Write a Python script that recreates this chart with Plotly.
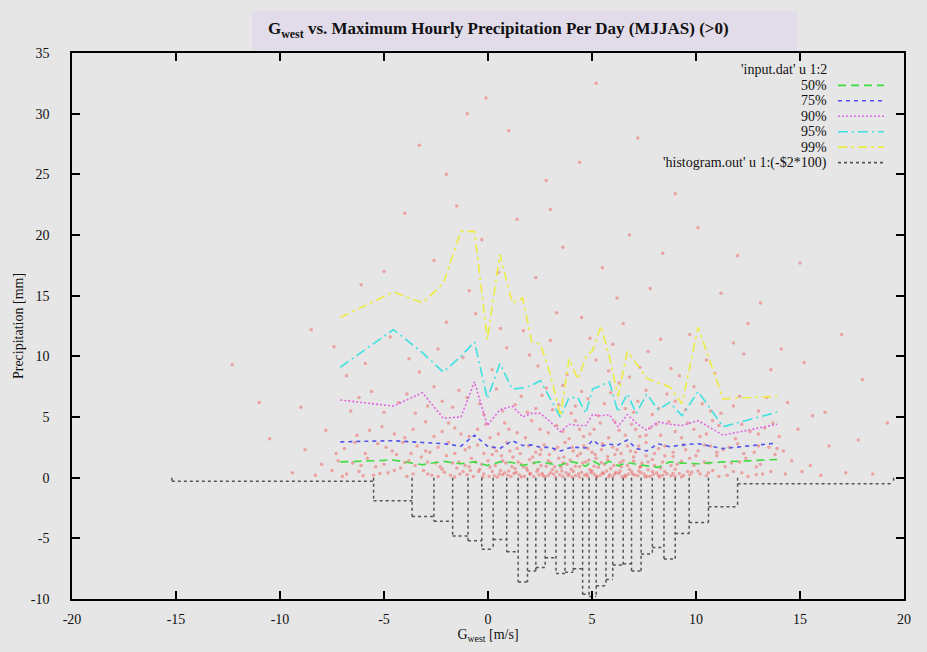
import plotly.graph_objects as go

# ---------------- data ----------------
x_ticks = [-20, -15, -10, -5, 0, 5, 10, 15, 20]
x_tick_labels = ["-20", "-15", "-10", "-5", "0", "5", "10", "15", "20"]
y_ticks = [-10, -5, 0, 5, 10, 15, 20, 25, 30, 35]
y_tick_labels = ["-10", "-5", "0", "5", "10", "15", "20", "25", "30", "35"]

# quantile curves (bin centres)
x_line = [-7.1, -4.55, -3.15, -2.15, -1.3, -0.65, -0.03, 0.57, 1.17, 1.67, 2.1, 2.52, 3.0, 3.48, 3.9,
          4.32, 4.7, 5.03, 5.43, 5.83, 6.25, 6.7, 7.13, 7.63, 8.18, 8.73, 9.33, 10.1, 11.3, 13.9]
p50 = [1.3, 1.45, 1.07, 1.35, 1.15, 1.3, 1.0, 1.3, 1.25, 1.0, 1.2, 1.3, 1.15, 1.0, 1.35,
       1.2, 0.93, 1.4, 1.0, 1.35, 0.98, 1.25, 1.1, 1.0, 0.85, 1.3, 1.2, 1.15, 1.3, 1.5]
p75 = [2.95, 3.05, 2.9, 2.8, 2.6, 3.5, 2.6, 2.4, 3.05, 2.65, 2.7, 2.5, 2.5, 2.2, 2.45,
       2.5, 2.45, 3.1, 2.6, 2.75, 2.7, 3.1, 2.4, 2.2, 2.8, 2.55, 2.7, 2.8, 2.4, 2.85]
p90 = [6.4, 5.9, 7.0, 4.9, 5.0, 7.9, 4.3, 5.6, 5.9, 5.0, 5.3, 5.3, 4.6, 3.8, 4.4,
       4.3, 4.3, 5.2, 5.1, 5.2, 4.2, 5.2, 4.5, 3.9, 4.6, 4.4, 4.3, 4.7, 3.5, 4.4]
p95 = [9.1, 12.2, 10.3, 8.7, 10.0, 11.2, 6.5, 9.4, 7.3, 7.4, 7.6, 8.0, 6.5, 5.0, 6.6,
       6.6, 5.3, 7.3, 7.6, 7.9, 5.4, 6.9, 5.3, 6.9, 5.6, 6.2, 5.1, 7.1, 4.2, 5.4]
p99 = [13.2, 15.3, 14.4, 16.0, 20.3, 20.3, 11.4, 18.4, 14.4, 14.8, 11.2, 11.0, 8.5, 5.1, 9.8,
       8.1, 9.9, 10.5, 12.5, 10.0, 6.7, 10.4, 9.4, 8.2, 7.8, 7.5, 6.1, 12.4, 6.5, 6.7]

# histogram (bin edges and -count*100 values)
hist_edges = [-15.2, -5.5, -3.65, -2.6, -1.7, -0.96, -0.3, 0.25, 0.9, 1.45, 1.9, 2.3, 2.75, 3.27, 3.7,
              4.1, 4.55, 4.86, 5.2, 5.67, 6.0, 6.5, 6.9, 7.36, 7.9, 8.46, 9.0, 9.67, 10.6, 12.0, 19.5]
hist_vals = [-0.3, -1.9, -3.2, -3.6, -4.8, -5.2, -5.9, -5.1, -6.1, -8.6, -7.7, -7.4, -6.6, -7.9,
             -7.8, -7.5, -9.6, -9.8, -8.9, -8.4, -7.2, -7.1, -7.7, -6.3, -5.75, -6.7, -4.6, -3.7, -2.4, -0.5]

# raw points (input.dat u 1:2)
scatter_pts = [
    (-1.8, 0.2), (-1.2, 0.5), (-0.7, 0.1), (-0.2, 0.3), (0.3, 0.15), (0.8, 0.4), (1.1, 0.1), (1.5, 0.25),
    (1.9, 0.6), (2.2, 0.1), (2.6, 0.35), (2.9, 0.2), (3.3, 0.5), (3.6, 0.1), (3.9, 0.3), (4.2, 0.15),
    (4.5, 0.45), (4.8, 0.1), (5.1, 0.3), (5.4, 0.2), (5.7, 0.55), (6.0, 0.1), (6.3, 0.35), (6.6, 0.2),
    (6.9, 0.5), (7.2, 0.15), (7.5, 0.3), (7.8, 0.1), (8.1, 0.4), (8.4, 0.2), (8.8, 0.15), (9.2, 0.35),
    (-1.6, 0.05), (-1.0, 0.25), (-0.45, 0.5), (0.05, 0.1), (0.55, 0.3), (0.95, 0.2), (1.35, 0.45),
    (1.75, 0.12), (2.05, 0.35), (2.45, 0.22), (2.75, 0.08), (3.15, 0.3), (3.45, 0.25), (3.75, 0.4),
    (4.05, 0.05), (4.35, 0.3), (4.65, 0.2), (4.95, 0.4), (5.25, 0.08), (5.55, 0.35), (5.85, 0.25),
    (6.15, 0.45), (6.45, 0.08), (6.75, 0.3), (7.05, 0.22), (7.35, 0.4), (7.65, 0.12), (7.95, 0.28),
    (8.25, 0.06), (8.6, 0.33), (9.0, 0.1), (9.4, 0.2), (9.8, 0.45), (10.5, 0.15),
    (-2.9, 0.3), (-2.4, 0.1), (-2.1, 0.45), (-1.35, 0.3), (-0.85, 0.6), (-0.25, 0.05), (0.2, 0.5),
    (0.45, 0.05), (0.7, 0.25), (1.0, 0.55), (1.25, 0.35), (1.6, 0.05), (2.0, 0.3), (2.35, 0.5),
    (2.65, 0.15), (3.0, 0.4), (3.25, 0.05), (3.55, 0.55), (3.85, 0.15), (4.1, 0.5), (4.4, 0.05),
    (4.75, 0.3), (5.0, 0.55), (5.2, 0.12), (5.5, 0.4), (5.8, 0.05), (6.1, 0.3), (6.35, 0.55),
    (6.6, 0.05), (6.95, 0.3), (7.25, 0.55), (7.55, 0.05), (7.9, 0.5), (8.2, 0.2), (8.5, 0.5),
    (8.9, 0.35), (9.3, 0.05), (9.7, 0.25), (10.1, 0.55), (10.6, 0.4), (11.1, 0.1), (11.8, 0.5),
    (12.5, 0.1), (13.2, 0.3), (-3.9, 0.1), (-4.5, 0.6), (-5.2, 0.35), (-6.0, 0.15), (-7.0, 0.1),
    (-1.5, 0.8), (-0.9, 0.9), (-0.4, 0.7), (0.1, 0.85), (0.6, 0.6), (1.3, 0.75), (1.7, 0.9), (2.4, 0.7),
    (2.8, 0.95), (3.1, 0.65), (3.5, 0.85), (4.0, 0.7), (4.4, 0.9), (4.9, 0.65), (5.3, 0.85), (5.9, 0.75),
    (6.4, 0.9), (6.8, 0.7), (7.3, 0.85), (7.7, 0.65), (8.3, 0.8), (9.0, 0.7), (9.6, 0.5), (10.2, 0.3),
    (10.8, 0.6), (11.5, 0.2), (12.2, 0.4), (12.9, 0.25), (13.6, 0.5),
    (-4.8, 0.4), (-4.2, 0.8), (-3.6, 0.3), (-3.1, 0.6), (-2.7, 0.2), (-2.3, 0.9), (-5.5, 0.2),
    (-6.2, 0.5), (-6.8, 0.3), (-7.5, 0.6), (-8.3, 0.2), (-9.4, 0.4), (14.3, 0.3), (15.1, 0.5),
    (16.0, 0.2), (17.2, 0.4), (18.5, 0.3),
    (-3.5, 1.0), (-2.9, 1.3), (-2.2, 0.7), (-1.7, 1.2), (-1.1, 1.0), (-0.6, 1.3), (0.0, 1.4), (0.35, 1.0),
    (0.85, 1.2), (1.15, 0.9), (1.45, 1.3), (1.85, 0.8), (2.2, 1.2), (2.55, 1.0), (2.9, 1.4), (3.2, 0.9),
    (3.6, 1.2), (3.95, 1.45), (4.2, 0.95), (4.55, 1.2), (4.85, 1.45), (5.1, 0.95), (5.45, 1.25),
    (5.75, 1.45), (6.05, 1.0), (6.35, 1.25), (6.7, 1.0), (7.0, 1.35), (7.35, 0.95), (7.7, 1.3),
    (8.0, 1.0), (8.4, 1.3), (8.8, 1.0), (9.3, 1.35), (9.9, 1.0), (10.6, 1.2), (11.4, 0.9), (12.1, 1.3),
    (12.9, 0.9), (-4.0, 1.25), (-5.4, 0.9), (-6.1, 1.0), (-7.2, 1.4), (-8.0, 1.1),
    (-6.5, 1.2), (-5.8, 1.6), (-5.0, 1.1), (-4.4, 1.9), (-3.8, 1.4), (-3.2, 1.7), (-2.5, 1.2),
    (-2.0, 1.8), (-1.4, 1.3), (-0.8, 1.6), (-0.3, 1.1), (0.2, 1.9), (0.7, 1.4), (1.2, 1.7), (1.6, 1.1),
    (2.0, 1.5), (2.5, 1.9), (3.0, 1.2), (3.4, 1.6), (3.8, 1.1), (4.3, 1.8), (4.7, 1.3), (5.2, 1.6),
    (5.6, 1.1), (6.1, 1.9), (6.5, 1.4), (7.0, 1.7), (7.4, 1.2), (7.9, 1.5), (8.5, 1.8), (9.1, 1.1),
    (9.7, 1.6), (10.4, 1.3), (11.0, 1.8), (11.7, 1.2), (12.4, 1.6), (13.1, 1.1), (13.8, 1.9),
    (14.6, 1.4), (15.5, 1.0),
    (-6.9, 2.4), (-5.3, 2.8), (-4.6, 2.2), (-3.4, 2.6), (-2.8, 2.1), (-1.9, 2.9), (-1.1, 2.3),
    (-0.5, 2.7), (0.4, 2.2), (0.9, 2.9), (1.4, 2.4), (2.3, 2.1), (2.7, 2.7), (3.2, 2.3), (3.7, 2.9),
    (4.1, 2.2), (4.6, 2.6), (5.0, 2.1), (5.5, 2.8), (6.2, 2.3), (6.7, 2.6), (7.1, 2.1), (7.6, 2.9),
    (8.2, 2.4), (8.9, 2.1), (9.4, 2.7), (10.1, 2.2), (10.7, 2.6), (11.3, 2.3), (12.0, 2.8),
    (12.8, 2.1), (13.5, 2.5), (14.2, 2.2), (16.4, 2.6), (-8.8, 2.3),
    (-4.9, 2.5), (-4.1, 2.9), (-3.7, 2.0), (-3.0, 2.2), (-2.4, 2.5), (-1.6, 2.0), (-0.9, 2.5),
    (-0.2, 2.0), (0.25, 2.5), (0.65, 1.8), (1.05, 2.2), (1.55, 2.0), (1.95, 2.6), (2.15, 1.7),
    (2.55, 2.3), (2.95, 1.9), (3.35, 2.5), (3.65, 1.7), (4.05, 2.5), (4.45, 2.0), (4.8, 2.4),
    (5.15, 1.9), (5.45, 2.3), (5.75, 1.75), (6.0, 2.5), (6.4, 2.0), (6.85, 2.2), (7.25, 2.6),
    (7.6, 1.8), (8.0, 2.0), (8.5, 2.6), (8.9, 1.75), (9.5, 2.3), (10.0, 1.8), (10.4, 2.7), (11.0, 2.1),
    (11.6, 2.5), (12.3, 2.0), (13.0, 2.6), (13.9, 2.4), (-5.9, 2.0), (-6.4, 2.9), (-7.3, 2.0),
    (-6.3, 3.5), (-5.1, 4.2), (-4.0, 3.3), (-3.0, 4.6), (-2.2, 3.8), (-1.6, 4.1), (-0.9, 3.4),
    (-0.1, 4.4), (0.5, 3.6), (1.0, 4.0), (1.8, 3.3), (2.1, 4.7), (2.9, 3.7), (3.3, 4.3), (3.9, 3.2),
    (4.4, 4.0), (4.9, 3.6), (5.4, 4.5), (5.8, 3.3), (6.3, 3.9), (6.9, 4.4), (7.3, 3.4), (7.8, 4.1),
    (8.3, 3.5), (8.7, 4.6), (9.3, 3.3), (9.9, 4.0), (10.5, 3.6), (11.1, 4.3), (11.9, 3.2),
    (12.6, 3.8), (13.3, 4.1), (14.0, 3.4), (14.9, 4.0), (17.8, 3.1), (-7.8, 3.9), (-10.5, 3.2),
    (-5.7, 3.9), (-4.5, 3.6), (-3.6, 4.0), (-2.6, 3.4), (-1.9, 4.5), (-1.3, 3.6), (-0.5, 4.0),
    (0.1, 3.3), (0.8, 4.5), (1.4, 3.7), (2.5, 4.0), (3.6, 3.8), (4.2, 4.7), (4.6, 3.4), (5.1, 4.0),
    (6.1, 4.6), (6.6, 3.5), (7.1, 4.0), (7.6, 3.5), (8.1, 4.4), (9.0, 3.8), (9.6, 4.5), (10.2, 3.4),
    (10.8, 4.7), (12.2, 4.4), (13.0, 3.6), (13.7, 4.5),
    (-6.6, 5.5), (-5.6, 7.1), (-4.3, 6.2), (-3.5, 5.3), (-2.6, 7.5), (-1.7, 5.8), (-1.0, 6.6),
    (-0.2, 5.2), (0.4, 7.3), (1.3, 6.0), (1.9, 5.4), (2.6, 6.8), (3.1, 5.6), (3.6, 7.6), (4.2, 5.9),
    (4.8, 6.5), (5.3, 5.1), (5.9, 7.0), (6.6, 5.7), (7.2, 6.3), (7.9, 5.2), (8.6, 6.9), (9.5, 5.6),
    (10.3, 6.1), (11.2, 5.3), (12.1, 6.7), (13.0, 5.5), (14.4, 6.2), (15.6, 5.1), (-9.0, 5.8),
    (-6.2, 6.6), (-5.0, 5.4), (-3.9, 6.9), (-2.9, 5.9), (-2.2, 6.3), (-1.4, 7.2), (-0.4, 6.1),
    (0.7, 5.5), (1.6, 6.7), (2.3, 5.7), (2.8, 7.4), (3.4, 6.0), (4.0, 5.3), (4.5, 7.1), (5.6, 6.1),
    (6.3, 7.8), (7.0, 5.4), (7.6, 7.2), (8.2, 5.7), (9.0, 6.3), (9.9, 7.5), (10.7, 5.5), (11.8, 5.9),
    (13.4, 6.6), (16.2, 5.4),
    (-5.9, 9.4), (-4.7, 11.6), (-3.3, 8.7), (-2.0, 12.8), (-1.2, 9.9), (-0.6, 13.5), (0.2, 8.9),
    (0.9, 10.7), (1.7, 12.1), (2.4, 9.2), (3.0, 11.3), (3.8, 8.5), (4.5, 13.2), (5.2, 9.7),
    (6.0, 11.0), (6.8, 8.3), (7.7, 10.4), (8.8, 9.0), (9.7, 11.8), (10.9, 8.6), (12.3, 10.2),
    (13.6, 8.9), (15.2, 9.5), (-7.4, 10.8), (-12.3, 9.3),
    (-3.8, 9.8), (-2.4, 10.6), (0.6, 12.3), (2.0, 10.1), (3.3, 13.6), (4.9, 11.5), (5.8, 8.8),
    (6.5, 12.7), (7.3, 9.1), (8.3, 11.4), (9.2, 8.4), (10.5, 9.7), (11.8, 11.1), (14.1, 10.6),
    (-6.8, 8.4), (-8.5, 12.2),
    (-4.0, 21.8), (-2.6, 17.9), (-1.5, 22.4), (-0.3, 19.6), (-0.9, 15.4), (0.5, 16.9), (1.4, 21.3),
    (2.3, 16.5), (3.6, 19.0), (4.4, 26.0), (5.5, 17.3), (6.2, 14.8), (7.8, 15.6), (8.4, 18.5),
    (10.1, 20.6), (11.2, 15.2), (13.1, 14.4), (15.0, 17.7), (-0.1, 31.3), (5.2, 32.5), (-3.3, 27.4),
    (2.8, 24.5), (12.5, 12.7), (-6.1, 15.9), (17.0, 11.8),
    (-5.0, 17.0), (-2.0, 25.0), (1.0, 28.6), (3.0, 22.1), (6.8, 20.0), (9.0, 23.4), (12.0, 18.3),
    (7.2, 28.0), (-1.0, 30.0), (18.0, 8.1), (-11.0, 6.2), (19.2, 4.5),
]
scatter_x = [p[0] for p in scatter_pts]
scatter_y = [p[1] for p in scatter_pts]

# ---------------- figure ----------------
FONT = "Liberation Serif, Times New Roman, serif"
BG = "#e6e6e6"

fig = go.Figure()

fig.add_trace(go.Scatter(x=scatter_x, y=scatter_y, mode="markers", name="'input.dat' u 1:2",
                         marker=dict(size=3.5, color="rgba(240,60,60,0.4)", line=dict(width=0))))

# histogram outline: open boxes hanging from zero, each vertical drawn once
hx, hy = [], []
n = len(hist_vals)
for i in range(n + 1):
    left = hist_vals[i - 1] if i > 0 else 0
    right = hist_vals[i] if i < n else 0
    hx += [hist_edges[i], hist_edges[i], None]
    hy += [0, min(left, right), None]
for i, v in enumerate(hist_vals):
    hx += [hist_edges[i], hist_edges[i + 1], None]
    hy += [v, v, None]
fig.add_trace(go.Scatter(x=hx, y=hy, mode="lines", name="'histogram.out' u 1:(-$2*100)",
                         connectgaps=False,
                         line=dict(color="#555555", width=1.5, dash="3px,3px")))

line_specs = [
    ("50%", p50, "#3edc3e", "8px,5px"),
    ("75%", p75, "#5252ee", "4px,4px"),
    ("90%", p90, "#e068e0", "2px,2px"),
    ("95%", p95, "#3ee0e0", "10px,4px,2px,4px"),
    ("99%", p99, "#ecec44", "9px,4px,3px,4px"),
]
for name, vals, col, dash in line_specs:
    fig.add_trace(go.Scatter(x=x_line, y=vals, mode="lines", name=name,
                             line=dict(color=col, width=1.6, dash=dash)))

# ---- pixel helpers for paper coordinates (plot area 72..904 x 53..601) ----
def px_x(p):
    return (p - 72) / 832.0

def px_y(p):
    return (601 - p) / 548.0

shapes = []
annotations = []

# title box
shapes.append(dict(type="rect", xref="paper", yref="paper", x0=px_x(252), x1=px_x(797),
                   y0=px_y(50), y1=px_y(11), fillcolor="#e2dcea", line=dict(width=0), layer="below"))
annotations.append(dict(xref="paper", yref="paper", x=px_x(266), y=px_y(30), xanchor="left",
                        yanchor="middle", showarrow=False,
                        text="<b>G<sub>west</sub> vs. Maximum Hourly Precipitation Per Day (MJJAS) (&gt;0)</b>",
                        font=dict(family=FONT, size=17, color="#111111")))

# gnuplot-style key (text right-aligned, sample on the right)
key_rows = [
    ("'input.dat' u 1:2", None, None),
    ("50%", "#3edc3e", "8px,5px"),
    ("75%", "#5252ee", "4px,4px"),
    ("90%", "#e068e0", "2px,2px"),
    ("95%", "#3ee0e0", "10px,4px,2px,4px"),
    ("99%", "#ecec44", "9px,4px,3px,4px"),
    ("'histogram.out' u 1:(-$2*100)", "#555555", "3px,3px"),
]
for k, (txt, col, dash) in enumerate(key_rows):
    yy = 70 + k * 15.5
    annotations.append(dict(xref="paper", yref="paper", x=px_x(829), y=px_y(yy), xanchor="right",
                            yanchor="middle", showarrow=False, text=txt,
                            font=dict(family=FONT, size=14, color="#111111")))
    if col:
        shapes.append(dict(type="line", xref="paper", yref="paper", x0=px_x(838), x1=px_x(884),
                           y0=px_y(yy), y1=px_y(yy), line=dict(color=col, width=1.6, dash=dash)))

axis_common = dict(showgrid=False, zeroline=False, showline=True, linecolor="black", linewidth=1.5,
                   mirror="ticks", ticks="inside", ticklen=8, tickwidth=1.5, tickcolor="black",
                   tickfont=dict(family=FONT, size=14, color="#111111"))

fig.update_layout(
    width=927, height=652,
    margin=dict(l=72, r=23, t=53, b=51),
    paper_bgcolor=BG, plot_bgcolor=BG,
    showlegend=False,
    font=dict(family=FONT),
    shapes=shapes, annotations=annotations,
    xaxis=dict(range=[-20, 20], tickvals=x_ticks, ticktext=x_tick_labels,
               title=dict(text="G<sub>west</sub> [m/s]", font=dict(family=FONT, size=14, color="#111111"),
                          standoff=4),
               ticklabelstandoff=6, **axis_common),
    yaxis=dict(range=[-10, 35], tickvals=y_ticks, ticktext=y_tick_labels,
               title=dict(text="Precipitation [mm]", font=dict(family=FONT, size=14, color="#111111"),
                          standoff=4),
               ticklabelstandoff=18, **axis_common),
)

fig.write_html("out.html")
